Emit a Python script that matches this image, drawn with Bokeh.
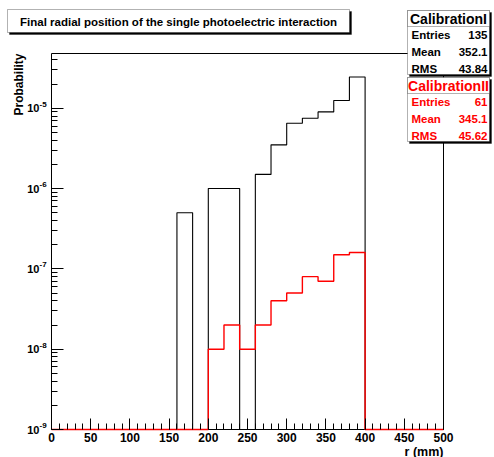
import numpy as np
from bokeh.plotting import figure
from bokeh.models import (BoxAnnotation, Label, FixedTicker, SingleIntervalTicker,
                          CustomJSTickFormatter)
from bokeh.embed import file_html
from bokeh.resources import INLINE

# ---- data -------------------------------------------------------------
bin_width = 20.0
r_low = [0, 20, 40, 60, 80, 100, 120, 140, 160, 180, 200, 220, 240,
         260, 280, 300, 320, 340, 360, 380, 400, 420, 440, 460, 480]

prob_calib_1 = [0, 0, 0, 0, 0, 0, 0, 0, 5e-7, 0, 1e-6, 1e-6, 0,
                1.5e-6, 3.5e-6, 6.5e-6, 7.5e-6, 9e-6, 1.25e-5, 2.45e-5,
                0, 0, 0, 0, 0]
prob_calib_2 = [0, 0, 0, 0, 0, 0, 0, 0, 0, 0, 1e-8, 2e-8, 1e-8,
                2e-8, 4e-8, 5e-8, 8e-8, 7e-8, 1.5e-7, 1.6e-7,
                0, 0, 0, 0, 0]

hist_names = ["CalibrationI", "CalibrationII"]
entries = [135, 61]
means = [352.1, 345.1]
rms = [43.84, 45.62]

x_start, x_end = 0, 500
y_start, y_end = 1e-9, 4.8e-5

# ---- page geometry (pixels) --------------------------------------------
W, H = 494, 457
PAD_L, PAD_R, PAD_T, PAD_B = 51, 443, 53, 429
FONT = "Liberation Sans"

# The canvas is one big frame; the histogram pad sits inside it, so the
# ranges are widened so that [x_start, x_end] x [y_start, y_end] lands on the pad.
ux = (x_end - x_start) / (PAD_R - PAD_L)
ly0, ly1 = np.log10(y_start), np.log10(y_end)
uy = (ly1 - ly0) / (PAD_B - PAD_T)
xr = (x_start - PAD_L * ux, x_end + (W - PAD_R) * ux)
yr = (10 ** (ly0 - (H - PAD_B) * uy), 10 ** (ly1 + PAD_T * uy))

p = figure(width=W, height=H, x_range=xr, y_range=yr, y_axis_type="log",
           output_backend="svg", toolbar_location=None, min_border=0)
p.title.visible = False
p.background_fill_color = "white"
p.border_fill_color = "white"
p.outline_line_color = None
p.grid.visible = False

# x axis pinned to the pad's bottom edge
xa = p.xaxis[0]
xa.fixed_location = y_start
xa.bounds = (x_start, x_end)
xa.ticker = SingleIntervalTicker(interval=50, num_minor_ticks=5)
xa.axis_line_color = None
xa.major_tick_in = 11
xa.major_tick_out = 0
xa.minor_tick_in = 6
xa.minor_tick_out = 0
xa.major_tick_line_color = "black"
xa.minor_tick_line_color = "black"
xa.major_label_standoff = 3
xa.major_label_text_font = FONT
xa.major_label_text_font_style = "bold"
xa.major_label_text_font_size = "12px"
xa.major_label_text_color = "black"

# y axis pinned to the pad's left edge: decades with 2..9 minor ticks
lo, hi = int(np.floor(ly0)), int(np.ceil(ly1))
decades = [10.0 ** k for k in range(lo, hi) if y_start <= 10.0 ** k <= y_end]
minors = [m * 10.0 ** k for k in range(lo, hi) for m in range(2, 10)
          if m * 10.0 ** k <= y_end]
ya = p.yaxis[0]
ya.fixed_location = x_start
ya.bounds = (y_start, y_end)
ya.ticker = FixedTicker(ticks=decades, minor_ticks=minors)
ya.formatter = CustomJSTickFormatter(code='return "10";')
ya.axis_line_color = None
ya.major_tick_in = 12
ya.major_tick_out = 0
ya.minor_tick_in = 6
ya.minor_tick_out = 0
ya.major_tick_line_color = "black"
ya.minor_tick_line_color = "black"
ya.major_label_standoff = 12
ya.major_label_text_font = FONT
ya.major_label_text_font_style = "bold"
ya.major_label_text_font_size = "11px"
ya.major_label_text_color = "black"

# decade exponents, raised next to the "10"
for d in decades:
    p.add_layout(Label(x=PAD_L - 12, y=d, x_units="canvas", y_units="data",
                       text=f"{int(round(np.log10(d)))}", text_font=FONT,
                       text_font_size="8px", text_font_style="bold",
                       text_color="black", text_align="left",
                       text_baseline="middle", y_offset=4))

# pad frame
p.quad(left=x_start, right=x_end, bottom=y_start, top=y_end,
       fill_color=None, line_color="black", line_width=1)


# ---- histograms drawn as outlines ------------------------------------
def outline(lows, vals, floor):
    edges = list(lows) + [lows[-1] + bin_width]
    v = [val if val > 0 else floor for val in vals]
    xs = [edges[0]]
    ys = [floor]
    for i, val in enumerate(v):
        xs += [edges[i], edges[i + 1]]
        ys += [val, val]
    xs.append(edges[-1])
    ys.append(floor)
    return xs, ys


bx, by = outline(r_low, prob_calib_1, y_start)
rx, ry = outline(r_low, prob_calib_2, y_start)
p.line(bx, by, line_color="black", line_width=1.1)
p.line(rx, ry, line_color="#ff0000", line_width=1.4)


# ---- boxes and texts in canvas pixels (origin top-left) --------------
def box(l, t, r, b, fill="white", line="black"):
    p.add_layout(BoxAnnotation(left=l, right=r, top=t, bottom=b,
                               left_units="canvas", right_units="canvas",
                               top_units="canvas", bottom_units="canvas",
                               fill_color=fill, fill_alpha=1.0,
                               line_color=line, line_width=1))


def text(x, y, s, size, color="black", align="left", bold=True, angle=0):
    p.add_layout(Label(x=x, y=y, x_units="canvas", y_units="canvas",
                       text=s, text_font=FONT, text_font_size=f"{size}px",
                       text_font_style="bold" if bold else "normal",
                       text_color=color, text_align=align,
                       text_baseline="middle", angle=angle))


# title box with shadow
box(9, 11, 351, 34, fill="black")
box(7, 9, 349, 32)
text(178, 21, "Final radial position of the single photoelectric interaction", 11.5,
     align="center")

# statistics boxes
colors = ["black", "#ff0000"]
tops = [10, 77]
for name, n, m, s, col, t in zip(hist_names, entries, means, rms, colors, tops):
    b = t + 64
    box(409, t + 2, 491, b + 2, fill="black")
    box(407, t, 489, b)
    box(407, t, 489, t + 16)
    text(448, t + 8, name, 14, color=col, align="center")
    rows = [("Entries", f"{n}"), ("Mean", f"{m:.1f}"), ("RMS", f"{s:.2f}")]
    for k, (lab, val) in enumerate(rows):
        yy = t + 24 + 17 * k
        text(411, yy, lab, 11.5, color=col)
        text(487, yy, val, 11.5, color=col, align="right")

# axis titles
text(18, PAD_T, "Probability", 12, align="right", angle=np.pi / 2)
text(PAD_R, 451, "r (mm)", 12.5, align="right")

open("out.html", "w").write(file_html(p, INLINE))
